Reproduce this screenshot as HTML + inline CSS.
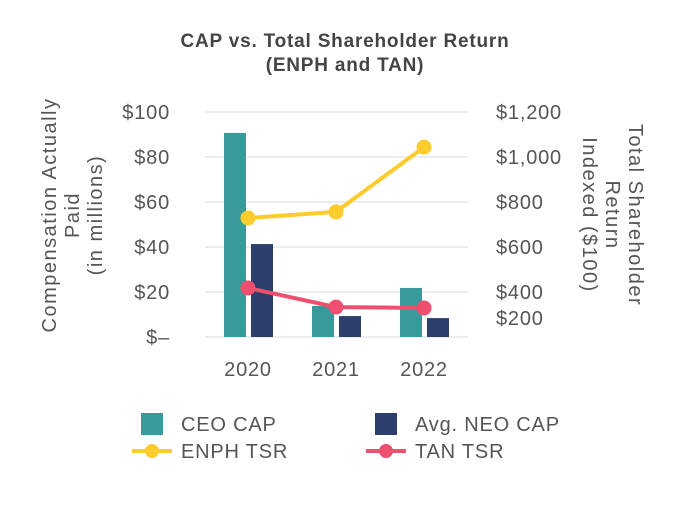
<!DOCTYPE html>
<html><head><meta charset="utf-8"><style>
body{margin:0;background:#fff;}
svg text{font-family:"Liberation Sans",sans-serif;fill:#555;letter-spacing:0.8px;}
</style></head><body>
<svg width="690" height="500" viewBox="0 0 690 500">
<g id="g"></g>
</svg>
<script>
const categories=["2020","2021","2022"];
const ceoCap=[90.7,13.8,21.8];
const neoCap=[41.3,9.3,8.4];
const enphTsr=[729,756,1044];
const tanTsr=[418,333,329];
const leftTicks=[0,20,40,60,80,100];
const leftTickLabels=["$–","$20","$40","$60","$80","$100"];
const rightTicks=[400,600,800,1000,1200];
const rightTickLabels=["$400","$600","$800","$1,000","$1,200"];
const NS="http://www.w3.org/2000/svg";
const g=document.getElementById('g');
function el(t,a,txt){const e=document.createElementNS(NS,t);for(const k in a)e.setAttribute(k,a[k]);if(txt!=null)e.textContent=txt;g.appendChild(e);return e;}
const y0=337,y1=112;
const yL=v=>y0-(v/100)*(y0-y1);
const yR=v=>y1+(1200-v)*45/200;
const xC=i=>248+i*88;
let t=el('text',{x:345,y:47,'text-anchor':'middle','font-size':19,'font-weight':'bold',style:'fill:#444'},'CAP vs. Total Shareholder Return');

t=el('text',{x:345,y:71,'text-anchor':'middle','font-size':19,'font-weight':'bold',style:'fill:#444'},'(ENPH and TAN)');

leftTicks.forEach((v,i)=>{
 const l=el('line',{x1:205,x2:468,y1:yL(v),y2:yL(v),stroke:'#e3e5e8','stroke-width':1.5});
 
 const tx=el('text',{x:170,y:yL(v)+7,'text-anchor':'end','font-size':20},leftTickLabels[i]);
 
});
rightTicks.forEach((v,i)=>{
 const tx=el('text',{x:496,y:yR(v)+7,'font-size':20},rightTickLabels[i]);
 
});
t=el('text',{x:496,y:325,'font-size':20},'$200');

categories.forEach((c,i)=>{
 const a=el('rect',{x:xC(i)-24,y:yL(ceoCap[i]),width:22,height:y0-yL(ceoCap[i]),fill:'#3a9a9b'});
 
 const b=el('rect',{x:xC(i)+3,y:yL(neoCap[i]),width:22,height:y0-yL(neoCap[i]),fill:'#2c3e6b'});
 
 const tx=el('text',{x:xC(i),y:376,'text-anchor':'middle','font-size':20},c);
 
});
function series(d,col,name){
 const p=el('polyline',{points:d.map((v,i)=>xC(i)+','+yR(v)).join(' '),fill:'none',stroke:col,'stroke-width':4});
 
 d.forEach((v,i)=>{const c=el('circle',{cx:xC(i),cy:yR(v),r:7.5,fill:col});
 });
}
series(enphTsr,'#fccb2e','enph-tsr');
series(tanTsr,'#ee4f6e','tan-tsr');
t=el('text',{'font-size':20,'text-anchor':'middle',style:'letter-spacing:1.5px',transform:'translate(78,215) rotate(-90)'});

['Compensation Actually','Paid','(in millions)'].forEach((s,i)=>{const ts=document.createElementNS(NS,'tspan');ts.setAttribute('x',0);ts.setAttribute('y',-22+i*23);ts.textContent=s;t.appendChild(ts);});
t=el('text',{'font-size':20,'text-anchor':'middle',style:'letter-spacing:1.5px',transform:'translate(607,215) rotate(90)'});

['Total Shareholder','Return','Indexed ($100)'].forEach((s,i)=>{const ts=document.createElementNS(NS,'tspan');ts.setAttribute('x',0);ts.setAttribute('y',-22+i*23);ts.textContent=s;t.appendChild(ts);});
function legend(x,y,type,col,label,name){
 if(type==='box'){const r=el('rect',{x:x+9,y:y-11,width:22,height:22,fill:col});}
 else{const l=el('line',{x1:x,x2:x+40,y1:y,y2:y,stroke:col,'stroke-width':4});
 const c=el('circle',{cx:x+20,cy:y,r:7,fill:col});}
 const tx=el('text',{x:x+49,y:y+7,'font-size':20},label);
}
legend(132,424,'box','#3a9a9b','CEO CAP','legend-ceo-cap');
legend(366,424,'box','#2c3e6b','Avg. NEO CAP','legend-neo-cap');
legend(132,451,'line','#fccb2e','ENPH TSR','legend-enph-tsr');
legend(366,451,'line','#ee4f6e','TAN TSR','legend-tan-tsr');
</script>
</body></html>
